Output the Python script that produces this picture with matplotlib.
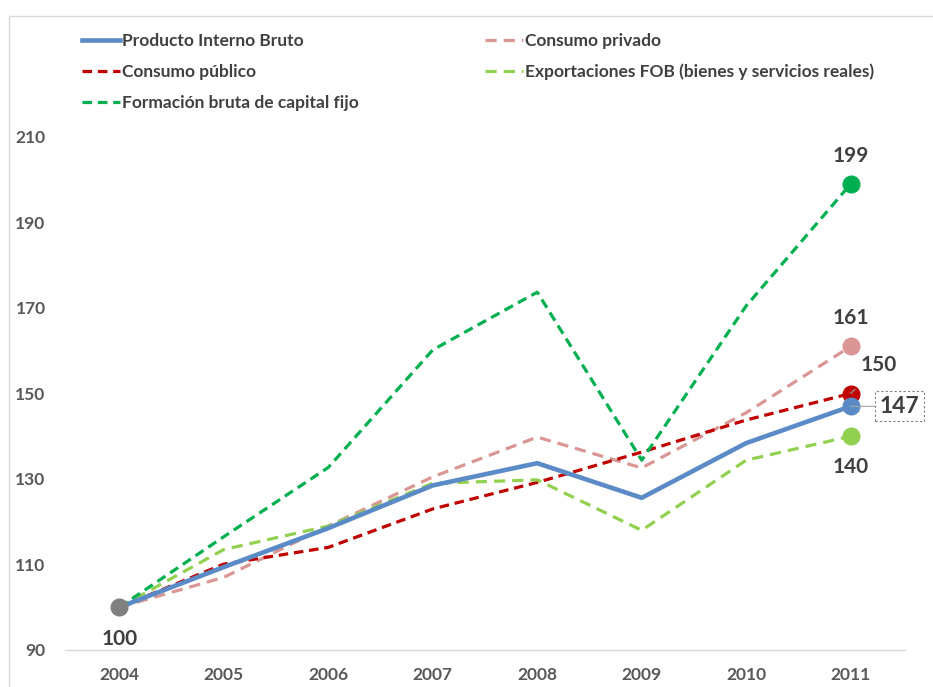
import numpy as np
import matplotlib
matplotlib.use("Agg")
import matplotlib.pyplot as plt
from matplotlib.patches import Rectangle

plt.rcParams['font.family'] = ['Lato', 'DejaVu Sans']

# datos (indice 2004 = 100)
years = ['2004', '2005', '2006', '2007', '2008', '2009', '2010', '2011']
pib = [100, 109.4, 118.5, 128.5, 133.7, 125.6, 138.4, 147]
cons_priv = [100, 107, 119, 130.5, 139.8, 132.6, 145.5, 161]
cons_pub = [100, 110.1, 114, 123, 129.2, 136.3, 143.8, 150]
export = [100, 113.5, 119, 129, 129.8, 118, 134.4, 140]
fbcf = [100, 116.5, 132.7, 160.2, 173.7, 134.4, 170.5, 199]
yticks = [90, 110, 130, 150, 170, 190, 210]

TXT = '#404040'
TICK = '#595959'

x = np.arange(len(years))

fig = plt.figure(figsize=(9.33, 6.87), dpi=100)
ax = fig.add_axes([65/933, 1-650/687, 840/933, 513/687])

# borde del area del grafico
fig.patches.append(Rectangle((9/933, -0.1), 1.2, 1-16/687+0.1, transform=fig.transFigure,
                             fill=False, edgecolor='#D9D9D9', linewidth=1))

l_pib, = ax.plot(x, pib, color='#5B8BC7', lw=3.3, label='Producto Interno Bruto', zorder=3)
l_priv, = ax.plot(x, cons_priv, color='#D99694', lw=2.3, ls=(0, (3.5, 2.2)), label='Consumo privado')
l_pub, = ax.plot(x, cons_pub, color='#C00000', lw=2.3, ls=(0, (3, 1.8)), label='Consumo público')
l_exp, = ax.plot(x, export, color='#92D050', lw=2.3, ls=(0, (3.5, 2.2)),
                 label='Exportaciones FOB (bienes y servicios reales)')
l_fbcf, = ax.plot(x, fbcf, color='#00B050', lw=2.3, ls=(0, (3, 1.8)), label='Formación bruta de capital fijo')

# marcadores finales
ms = 12
ax.plot(x[-1], fbcf[-1], 'o', color='#00B050', ms=ms, zorder=5)
ax.plot(x[-1], cons_priv[-1], 'o', color='#D99694', ms=ms, zorder=5)
ax.plot(x[-1], cons_pub[-1], 'o', color='#C00000', ms=ms, zorder=5)
ax.plot(x[-1], pib[-1], 'o', color='#5B8BC7', ms=ms, zorder=5)
ax.plot(x[-1], export[-1], 'o', color='#92D050', ms=ms, zorder=5)
ax.plot(x[0], pib[0], 'o', color='#808080', ms=ms, zorder=5)

lab = dict(fontsize=15, fontweight='bold', color=TXT, ha='center', va='center', zorder=6)
ax.annotate(f'{fbcf[-1]:.0f}', (x[-1], fbcf[-1]), xytext=(0, 28), textcoords='offset pixels', **lab)
ax.annotate(f'{cons_priv[-1]:.0f}', (x[-1], cons_priv[-1]), xytext=(0, 28), textcoords='offset pixels', **lab)
ax.annotate(f'{cons_pub[-1]:.0f}', (x[-1], cons_pub[-1]), xytext=(28, 28), textcoords='offset pixels',
            arrowprops=dict(arrowstyle='-', color='#A6A6A6', lw=0.8, shrinkA=11, shrinkB=0), **lab)
ax.annotate(f'{pib[-1]:.0f}', (x[-1], pib[-1]), xytext=(49, 0), textcoords='offset pixels',
            fontsize=16.5, fontweight='bold', color=TXT, ha='center', va='center', zorder=6,
            bbox=dict(boxstyle='square,pad=0.2', fc='white', ec='#7F7F7F', ls=(0, (2, 2)), lw=0.8),
            arrowprops=dict(arrowstyle='-', color='#A6A6A6', lw=0.8, shrinkA=0, shrinkB=0))
ax.annotate(f'{export[-1]:.0f}', (x[-1], export[-1]), xytext=(0, -31), textcoords='offset pixels', **lab)
ax.annotate(f'{pib[0]:.0f}', (x[0], pib[0]), xytext=(0, -32), textcoords='offset pixels', **lab)

ax.set_xlim(-0.52, len(years) - 0.48)
ax.set_ylim(90, 210)
ax.set_xticks(x)
ax.set_xticklabels(years)
ax.set_yticks(yticks)
for t in ax.get_xticklabels() + ax.get_yticklabels():
    t.set_fontweight('bold')
    t.set_color(TICK)
    t.set_fontsize(12.5)
ax.tick_params(axis='both', length=0)
ax.tick_params(axis='x', pad=12)
ax.tick_params(axis='y', pad=14)
for s in ['top', 'right', 'left']:
    ax.spines[s].set_visible(False)
ax.spines['bottom'].set_color('#D9D9D9')
ax.spines['bottom'].set_linewidth(1)

# leyenda en dos bloques
leg_kw = dict(frameon=False, fontsize=12.5, handlelength=2.2, handletextpad=0.1,
              labelspacing=0.86, borderaxespad=0, borderpad=0, loc='upper left')
leg1 = fig.legend([l_pib, l_pub, l_fbcf], [l.get_label() for l in (l_pib, l_pub, l_fbcf)],
                  bbox_to_anchor=(82/933, 1-33/687), **leg_kw)
leg2 = fig.legend([l_priv, l_exp], [l.get_label() for l in (l_priv, l_exp)],
                  bbox_to_anchor=(485/933, 1-33/687), **leg_kw)
for lg in (leg1, leg2):
    for t in lg.get_texts():
        t.set_fontweight('bold')
        t.set_color(TXT)

fig.savefig('out.png', dpi=100)
